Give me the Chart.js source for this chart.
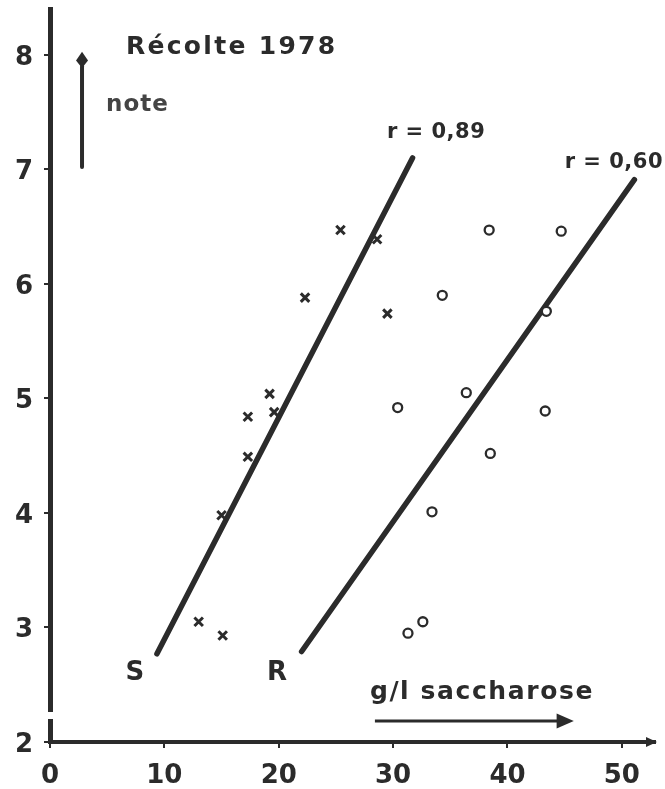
<!DOCTYPE html>
<html><head><meta charset="utf-8">
<script src="https://cdn.jsdelivr.net/npm/chart.js@4/dist/chart.umd.min.js"></script>
<style>html,body{margin:0;padding:0;background:#fff;}canvas{display:block;}</style>
</head><body>
<canvas id="c" width="665" height="789"></canvas>
<script>
// ---- data ----
const xTicks = [0, 10, 20, 30, 40, 50];
const yTicks = [2, 3, 4, 5, 6, 7, 8];
const sX = [13.0, 15.1, 15.0, 17.3, 17.3, 19.2, 19.6, 22.3, 25.4, 28.6, 29.5];
const sY = [3.05, 2.93, 3.98, 4.49, 4.84, 5.04, 4.88, 5.88, 6.47, 6.39, 5.74];
const rX = [31.3, 32.6, 33.4, 30.4, 38.5, 36.4, 43.3, 43.4, 34.3, 38.4, 44.7];
const rY = [2.95, 3.05, 4.01, 4.92, 4.52, 5.05, 4.89, 5.76, 5.90, 6.47, 6.46];
const sLineX = [9.35, 31.7];
const sLineY = [2.77, 7.10];
const rLineX = [22.0, 51.1];
const rLineY = [2.79, 6.91];
const titleText = 'Récolte 1978';
const yName = 'note';
const xName = 'g/l saccharose';
const sLabel = 'S';
const rLabel = 'R';
const sCorr = 'r = 0,89';
const rCorr = 'r = 0,60';

// ---- styles ----
const INK = '#2b2b2b';
const FONT = '"DejaVu Sans", sans-serif';
const pts = (xs, ys) => xs.map((v, i) => ({x: v, y: ys[i]}));

const deco = {
  id: 'deco',
  afterDraw(chart) {
    const {ctx, chartArea: ca, scales: {x, y}} = chart;
    const X = v => x.getPixelForValue(v), Y = v => y.getPixelForValue(v);
    ctx.save();
    // gap in the y axis
    ctx.fillStyle = '#fff';
    ctx.fillRect(X(0) - 5, Y(2.262), 10, 7);
    ctx.fillStyle = INK;
    ctx.strokeStyle = INK;
    // x axis arrowhead
    ctx.beginPath();
    ctx.moveTo(ca.right - 9, Y(2) - 5);
    ctx.lineTo(ca.right + 2, Y(2));
    ctx.lineTo(ca.right - 9, Y(2) + 5);
    ctx.closePath(); ctx.fill();
    // up arrow near 'note'
    const ax = X(2.8);
    ctx.lineWidth = 4; ctx.lineCap = 'round';
    ctx.beginPath(); ctx.moveTo(ax, Y(7.02)); ctx.lineTo(ax, Y(7.9)); ctx.stroke();
    ctx.beginPath();
    ctx.moveTo(ax, Y(8.026));
    ctx.lineTo(ax + 6, Y(7.95));
    ctx.lineTo(ax, Y(7.885));
    ctx.lineTo(ax - 6, Y(7.95));
    ctx.closePath(); ctx.fill();
    // arrow under x name
    const ay = Y(2.183);
    ctx.lineWidth = 3; ctx.lineCap = 'butt';
    ctx.beginPath(); ctx.moveTo(X(28.41), ay); ctx.lineTo(X(44.6), ay); ctx.stroke();
    ctx.beginPath();
    ctx.moveTo(X(44.3), ay - 7.5);
    ctx.lineTo(X(45.8), ay);
    ctx.lineTo(X(44.3), ay + 7.5);
    ctx.closePath(); ctx.fill();
    // texts
    ctx.textBaseline = 'middle';
    const txt = (s, vx, vy, size, align, spacing, color) => {
      ctx.font = 'bold ' + size + 'px ' + FONT;
      ctx.textAlign = align;
      ctx.letterSpacing = (spacing || 0) + 'px';
      ctx.fillStyle = color || INK;
      ctx.fillText(s, X(vx), Y(vy));
    };
    txt(titleText, 6.64, 8.06, 25, 'left', 2.3);
    txt(yName, 4.9, 7.56, 23, 'left', 1, '#444');
    txt(sCorr, 29.46, 7.32, 21, 'left', 0.5);
    txt(rCorr, 45.0, 7.06, 21, 'left', 0.5);
    txt(sLabel, 7.43, 2.60, 26, 'center', 0);
    txt(rLabel, 19.84, 2.60, 26, 'center', 0);
    txt(xName, 27.97, 2.43, 25, 'left', 1.6);
    ctx.restore();
  }
};

const tickFont = {family: FONT, size: 26, weight: 'bold'};

new Chart(document.getElementById('c'), {
  type: 'scatter',
  data: {
    datasets: [
      {type: 'line', data: pts(sLineX, sLineY), borderColor: INK, borderWidth: 5.5,
       borderCapStyle: 'round', pointRadius: 0, fill: false, order: 3},
      {type: 'line', data: pts(rLineX, rLineY), borderColor: INK, borderWidth: 5.5,
       borderCapStyle: 'round', pointRadius: 0, fill: false, order: 3},
      {data: pts(sX, sY), pointStyle: 'crossRot', pointRadius: 6, borderWidth: 3,
       borderColor: INK, backgroundColor: INK, order: 1},
      {data: pts(rX, rY), pointStyle: 'circle', pointRadius: 4.5, borderWidth: 2.3,
       borderColor: INK, backgroundColor: '#fff', order: 1}
    ]
  },
  options: {
    responsive: false,
    animation: false,
    devicePixelRatio: 1,
    layout: {padding: {top: 9, right: 10, left: 0, bottom: 0}},
    plugins: {legend: {display: false}, tooltip: {enabled: false}, title: {display: false}},
    scales: {
      x: {
        type: 'linear', min: 0, max: 52.9,
        afterBuildTicks: s => { s.ticks = xTicks.map(v => ({value: v})); },
        afterFit: s => { s.height = 47; s.paddingLeft = 0; s.paddingRight = 0; },
        ticks: {font: tickFont, color: INK, padding: 13, maxRotation: 0, autoSkip: false,
                includeBounds: false},
        grid: {display: true, drawOnChartArea: false, drawTicks: true, tickLength: 6,
               color: INK, lineWidth: 2},
        border: {display: true, color: INK, width: 4}
      },
      y: {
        type: 'linear', min: 2, max: 8.4,
        afterBuildTicks: s => { s.ticks = yTicks.map(v => ({value: v})); },
        afterFit: s => { s.width = 50; s.paddingTop = 0; s.paddingBottom = 0; },
        ticks: {font: tickFont, color: INK, padding: 11, autoSkip: false, labelOffset: 3,
                includeBounds: false},
        grid: {display: true, drawOnChartArea: false, drawTicks: true, tickLength: 6,
               color: INK, lineWidth: 2},
        border: {display: true, color: INK, width: 5}
      }
    }
  },
  plugins: [deco]
});
</script>
</body></html>
